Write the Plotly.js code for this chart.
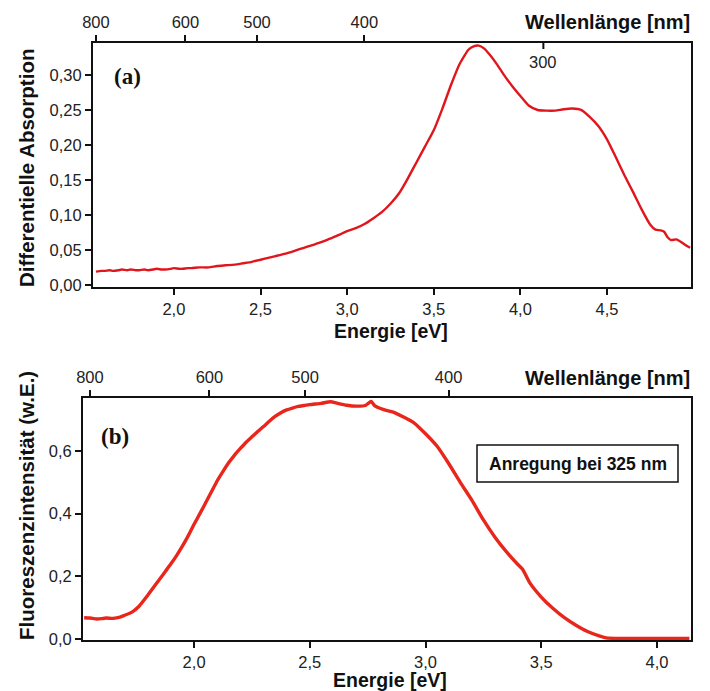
<!DOCTYPE html>
<html>
<head>
<meta charset="utf-8">
<script src="https://cdn.plot.ly/plotly-3.0.1.min.js"></script>
<style>html,body{margin:0;padding:0;background:#fff;}#chart{width:710px;height:691px;}</style>
</head>
<body>
<div id="chart"></div>
<script>
// ---- Data: panel (a) differential absorption ----
var absEnergy = [1.55,1.58,1.60,1.63,1.65,1.68,1.70,1.73,1.75,1.78,1.80,1.83,1.85,1.88,1.90,1.93,1.95,1.98,2.00,2.03,2.05,2.08,2.10,2.15,2.20,2.25,2.30,2.35,2.40,2.45,2.50,2.55,2.60,2.65,2.70,2.75,2.80,2.85,2.90,2.95,3.00,3.05,3.10,3.15,3.20,3.25,3.30,3.35,3.40,3.45,3.50,3.55,3.60,3.65,3.70,3.73,3.76,3.79,3.82,3.86,3.90,3.95,4.00,4.05,4.10,4.15,4.20,4.25,4.30,4.35,4.40,4.45,4.50,4.55,4.60,4.65,4.70,4.75,4.78,4.81,4.83,4.85,4.87,4.90,4.93,4.96,4.98];
var absValue  = [0.019,0.020,0.020,0.021,0.020,0.021,0.022,0.021,0.022,0.021,0.021,0.022,0.021,0.022,0.023,0.022,0.022,0.023,0.024,0.023,0.023,0.024,0.024,0.025,0.025,0.027,0.028,0.029,0.031,0.033,0.036,0.039,0.042,0.045,0.049,0.053,0.057,0.061,0.066,0.071,0.077,0.081,0.087,0.095,0.104,0.116,0.131,0.152,0.175,0.198,0.221,0.252,0.286,0.316,0.336,0.341,0.342,0.338,0.330,0.317,0.302,0.285,0.270,0.256,0.250,0.249,0.249,0.251,0.252,0.250,0.240,0.227,0.208,0.183,0.157,0.133,0.108,0.086,0.079,0.078,0.076,0.068,0.064,0.065,0.061,0.056,0.053];

// ---- Data: panel (b) fluorescence intensity ----
var flEnergy = [1.525,1.55,1.58,1.60,1.62,1.65,1.68,1.70,1.73,1.76,1.80,1.85,1.875,1.90,1.925,1.95,1.975,2.00,2.025,2.05,2.075,2.10,2.125,2.15,2.175,2.20,2.225,2.25,2.275,2.30,2.325,2.35,2.375,2.40,2.425,2.45,2.475,2.50,2.55,2.59,2.62,2.66,2.70,2.74,2.765,2.78,2.82,2.86,2.90,2.95,3.00,3.05,3.10,3.15,3.20,3.25,3.30,3.35,3.40,3.42,3.45,3.50,3.55,3.60,3.65,3.70,3.75,3.78,3.85,4.00,4.14];
var flValue  = [0.068,0.067,0.064,0.065,0.067,0.066,0.070,0.076,0.085,0.103,0.140,0.190,0.215,0.240,0.267,0.297,0.330,0.366,0.400,0.435,0.470,0.505,0.535,0.563,0.587,0.608,0.628,0.645,0.662,0.678,0.695,0.710,0.722,0.731,0.737,0.742,0.745,0.748,0.752,0.757,0.752,0.746,0.743,0.745,0.758,0.745,0.732,0.724,0.710,0.690,0.655,0.615,0.560,0.500,0.443,0.380,0.325,0.278,0.237,0.222,0.180,0.134,0.098,0.068,0.044,0.024,0.010,0.004,0.002,0.002,0.002];

// ---- Tick labels ----
var energyTicksA = [2.0,2.5,3.0,3.5,4.0,4.5];
var energyTicksB = [2.0,2.5,3.0,3.5,4.0];
var absTicks = [0.00,0.05,0.10,0.15,0.20,0.25,0.30];
var flTicks = [0.0,0.2,0.4,0.6];
var wlTicksA = [800,600,500,400];
var wlInsideA = [300];
var wlTicksB = [800,600,500,400];
var HC = 1239.84; // eV*nm

function toE(arr){ return arr.map(function(l){ return HC/l; }); }

var W = 710, H = 691;
function px(x){ return x / W; }
function py(y){ return 1 - y / H; }

var FONT = 'Liberation Sans, Arial, Helvetica, sans-serif';
var SERIF = 'Liberation Serif, Times New Roman, serif';
var INK = '#111';

var rangeA = [1.533, 4.985];
var rangeB = [1.52, 4.147];

var traces = [
  {x: absEnergy, y: absValue, xaxis: 'x', yaxis: 'y', mode: 'lines',
   line: {color: '#e0161d', width: 2.4, shape: 'spline', smoothing: 0.5}, hoverinfo: 'skip'},
  {x: [null], y: [null], xaxis: 'x3', yaxis: 'y', mode: 'lines', showlegend: false, hoverinfo: 'skip'},
  {x: flEnergy, y: flValue, xaxis: 'x2', yaxis: 'y2', mode: 'lines',
   line: {color: '#e8261c', width: 3.4, shape: 'spline', smoothing: 0.5}, hoverinfo: 'skip'},
  {x: [null], y: [null], xaxis: 'x4', yaxis: 'y2', mode: 'lines', showlegend: false, hoverinfo: 'skip'}
];

var axBase = {
  showline: true, linecolor: INK, linewidth: 2, ticks: 'outside', ticklen: 6, tickwidth: 2,
  tickcolor: INK, showgrid: false, zeroline: false, tickfont: {family: FONT, size: 16.5, color: '#222'},
  fixedrange: true
};
function ax(o){ var r = {}; for (var k in axBase) r[k] = axBase[k]; for (var k2 in o) r[k2] = o[k2]; return r; }

var domXA = [px(93), px(691)];
var domYA = [py(287), py(43)];
var domXB = [px(83), px(691)];
var domYB = [py(640), py(398)];

var layout = {
  width: W, height: H,
  margin: {l: 0, r: 0, t: 0, b: 0},
  paper_bgcolor: '#fff', plot_bgcolor: '#fff',
  showlegend: false,
  separators: ',.',
  xaxis: ax({domain: domXA, anchor: 'y', range: rangeA, tickmode: 'array', tickvals: energyTicksA, tickformat: '.1f'}),
  yaxis: ax({domain: domYA, anchor: 'x', range: [-0.003, 0.3457], tickmode: 'array', tickvals: absTicks, tickformat: '.2f', mirror: true}),
  xaxis3: ax({overlaying: 'x', anchor: 'y', side: 'top', range: rangeA, tickmode: 'array',
    tickvals: toE(wlTicksA), ticktext: wlTicksA.map(String)}),
  xaxis2: ax({domain: domXB, anchor: 'y2', range: rangeB, tickmode: 'array', tickvals: energyTicksB, tickformat: '.1f'}),
  yaxis2: ax({domain: domYB, anchor: 'x2', range: [-0.003, 0.769], tickmode: 'array', tickvals: flTicks, tickformat: '.1f', mirror: true}),
  xaxis4: ax({overlaying: 'x2', anchor: 'y2', side: 'top', range: rangeB, tickmode: 'array',
    tickvals: toE(wlTicksB), ticktext: wlTicksB.map(String)}),
  shapes: [],
  annotations: []
};

// inside tick for 300 nm in panel (a)
wlInsideA.forEach(function(l){
  layout.shapes.push({type: 'line', xref: 'x', yref: 'paper', x0: HC/l, x1: HC/l,
    y0: py(43), y1: py(49), line: {color: INK, width: 2}});
  layout.annotations.push({xref: 'x', yref: 'paper', x: HC/l, y: py(62), text: String(l), showarrow: false,
    font: {family: FONT, size: 16.5, color: '#222'}, xanchor: 'center', yanchor: 'middle'});
});

var titleFont = {family: FONT, size: 19.5, color: INK};
function addText(o){ o.showarrow = false; o.xref = o.xref || 'paper'; o.yref = o.yref || 'paper'; layout.annotations.push(o); }

addText({x: px(692), y: py(22), text: '<b>Wellenlänge [nm]</b>', xanchor: 'right', yanchor: 'middle', font: {family: FONT, size: 20, color: INK}});
addText({x: px(391), y: py(331), text: '<b>Energie [eV]</b>', xanchor: 'center', yanchor: 'middle', font: titleFont});
addText({x: px(26), y: py(168), text: '<b>Differentielle Absorption</b>', textangle: -90, xanchor: 'center', yanchor: 'middle', font: {family: FONT, size: 20.5, color: INK}});
addText({x: px(692), y: py(378), text: '<b>Wellenlänge [nm]</b>', xanchor: 'right', yanchor: 'middle', font: {family: FONT, size: 20, color: INK}});
addText({x: px(390), y: py(680), text: '<b>Energie [eV]</b>', xanchor: 'center', yanchor: 'middle', font: titleFont});
addText({x: px(26), y: py(506), text: '<b>Fluoreszenzintensität (w.E.)</b>', textangle: -90, xanchor: 'center', yanchor: 'middle', font: {family: FONT, size: 20.5, color: INK}});
addText({x: px(112), y: py(76), text: '<b>(a)</b>', xanchor: 'left', yanchor: 'middle', font: {family: SERIF, size: 23, color: INK}});
addText({x: px(99), y: py(436), text: '<b>(b)</b>', xanchor: 'left', yanchor: 'middle', font: {family: SERIF, size: 23, color: INK}});

layout.shapes.push({type: 'rect', xref: 'paper', yref: 'paper', x0: px(477), x1: px(678), y0: py(482), y1: py(445),
  line: {color: INK, width: 1.5}, fillcolor: 'rgba(255,255,255,0)'});
addText({x: px(577.5), y: py(463.5), text: '<b>Anregung bei 325 nm</b>', xanchor: 'center', yanchor: 'middle',
  font: {family: FONT, size: 17.5, color: INK}});

Plotly.newPlot('chart', traces, layout, {displayModeBar: false, staticPlot: true});
</script>
</body>
</html>
